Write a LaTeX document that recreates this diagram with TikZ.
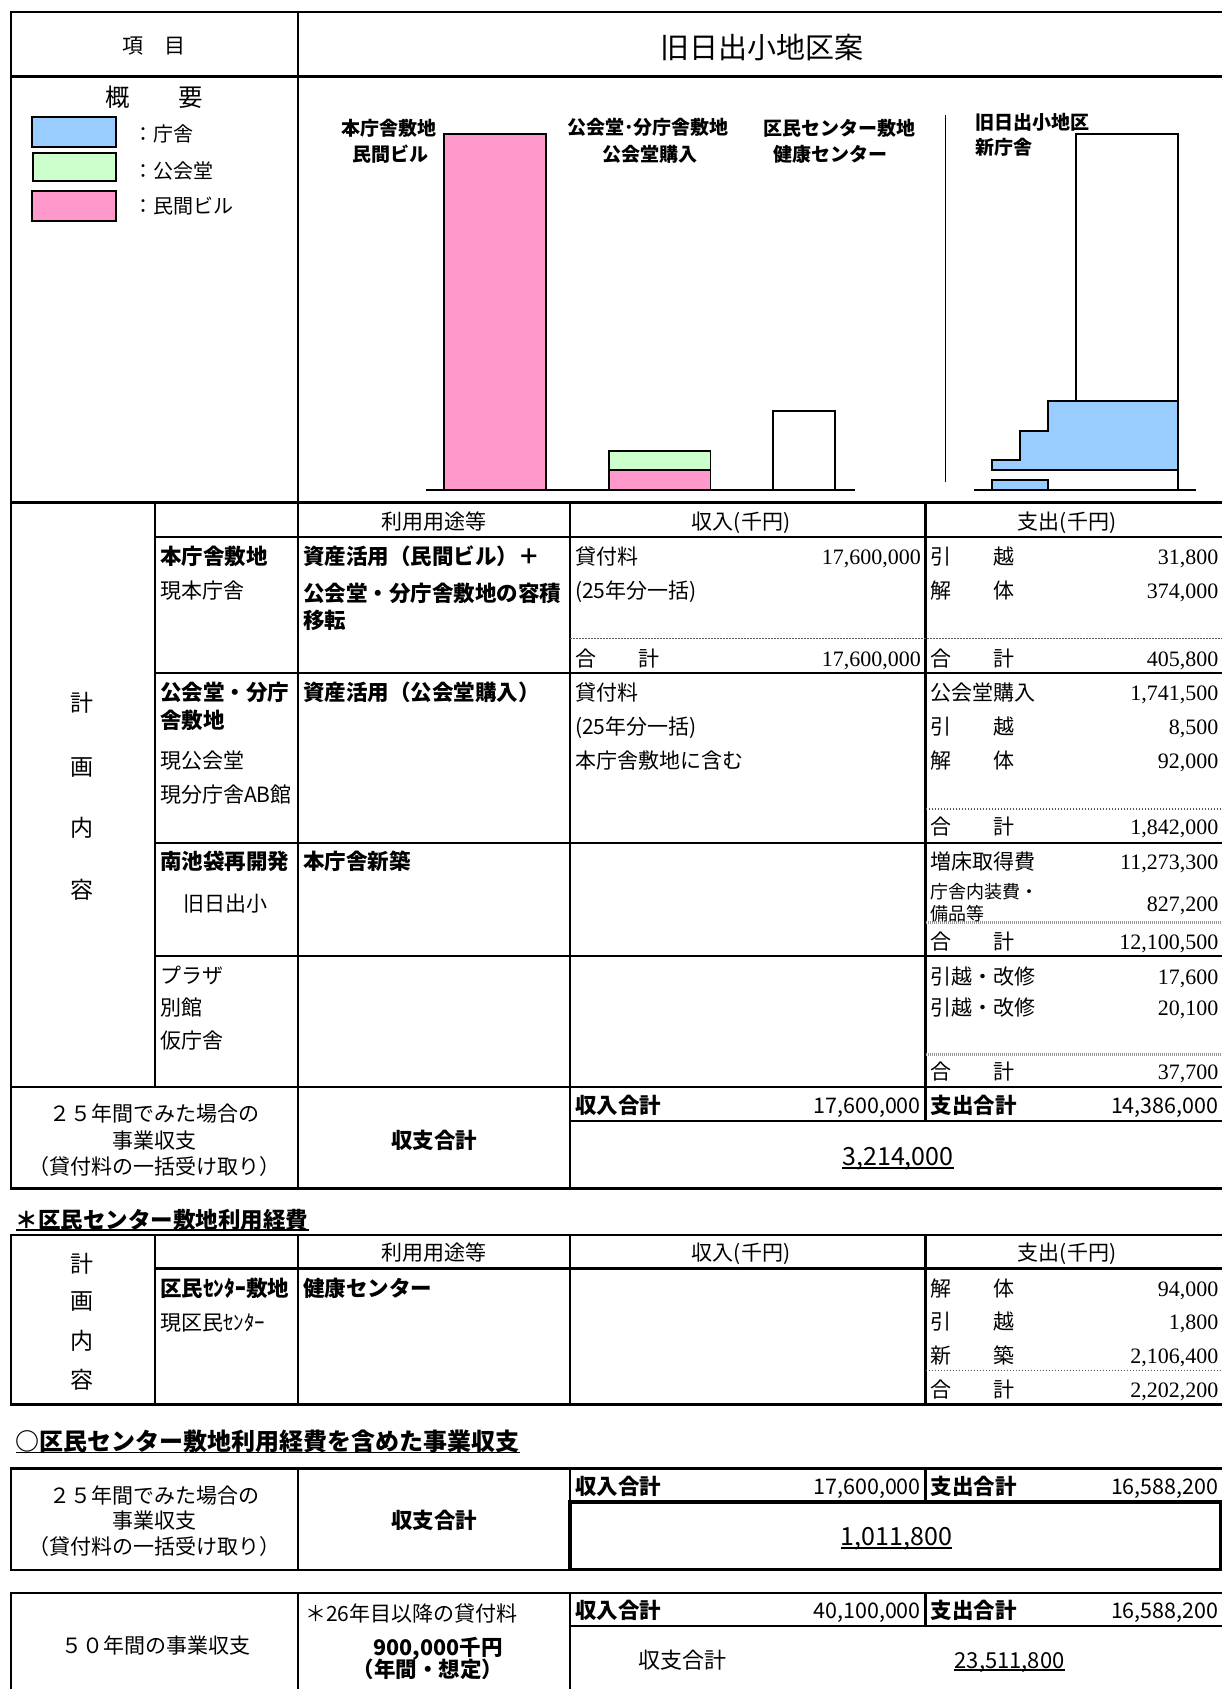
\documentclass[tikz,border=0pt]{standalone}
\usepackage{fontspec}
\setmainfont{Liberation Serif}
\newfontfamily\jp{Noto Sans CJK JP}
\usetikzlibrary{positioning}
\definecolor{chosha}{RGB}{153,204,255}
\definecolor{kokaido}{RGB}{204,255,204}
\definecolor{minkan}{RGB}{255,153,204}

\begin{document}
\begin{tikzpicture}[x=1pt, y=-1pt,
                    every node/.style={inner sep=0pt,
                                       font=\jp\fontsize{21}{25}\selectfont,
                                       text height=18.5pt, text depth=2.5pt},
                    rule/.style={line width=2.4pt, line cap=rect},
                    dotrule/.style={line width=1.3pt, black!65,
                                    dash pattern=on 1.5pt off 1.5pt},
                    grayrule/.style={line width=3pt, black!40,
                                     dash pattern=on 1pt off 1pt},
                    barbox/.style={draw, line width=1.3pt},
                    legendbox/.style={draw, line width=2.4pt},
                    cell/.style={anchor=west},
                    bold/.style={font=\jp\bfseries\fontsize{21.5}{26}\selectfont,
                                 text height=19pt, text depth=2.5pt},
                    num/.style={anchor=east, font=\fontsize{22}{26}\selectfont,
                                text height=19pt, text depth=2.5pt},
                    gnum/.style={anchor=east, font=\jp\fontsize{21.5}{26}\selectfont,
                                 text height=19pt, text depth=2.5pt},
                    bignum/.style={font=\jp\fontsize{25}{30}\selectfont,
                                   text height=22pt, text depth=3pt},
                    chartlabel/.style={font=\jp\bfseries\fontsize{19}{23}\selectfont,
                                       text height=16.7pt, text depth=2.3pt},
                    small/.style={anchor=west, font=\jp\fontsize{18}{22}\selectfont,
                                  text height=15.8pt, text depth=2.2pt},
                    vert/.style={font=\jp\fontsize{23}{27}\selectfont,
                                 text height=20.2pt, text depth=2.8pt},
                    heading/.style={anchor=west, font=\jp\bfseries\fontsize{#1}{28}\selectfont,
                                    text height=20.5pt, text depth=2.8pt},
                    underline/.style={line width=1.6pt}]
    \useasboundingbox[fill=white] (0,0) rectangle (1222,1689);

    \draw[rule] (11,12) -- (1222,12);
    \draw[rule] (11,76.5) -- (1222,76.5);
    \draw[rule] (11,502.5) -- (1222,502.5);
    \draw[rule] (11,12) -- (11,1188.5);
    \draw[rule] (298,12) -- (298,1188.5);
    \draw[rule] (155,502.5) -- (155,1087);
    \draw[rule] (570,502.5) -- (570,1188.5);
    \draw[rule] (925.5,502.5) -- (925.5,1121);
    \draw[rule] (155,536.7) -- (1222,536.7);
    \draw[rule] (155,673) -- (1222,673);
    \draw[rule] (155,842.7) -- (1222,842.7);
    \draw[rule] (155,956) -- (1222,956);
    \draw[rule] (11,1087) -- (1222,1087);
    \draw[rule] (570,1121) -- (1222,1121);
    \draw[rule] (11,1188.5) -- (1222,1188.5);
    \draw[dotrule] (570,638.3) -- (1222,638.3);
    \draw[dotrule] (925.5,809) -- (1222,809);
    \draw[grayrule] (925.5,922.7) -- (1222,922.7);
    \draw[grayrule] (925.5,1054) -- (1222,1054);

    \node (komoku) at (154,45) {項　目};
    \node[font=\jp\fontsize{29}{34}\selectfont, text height=25.5pt, text depth=3.5pt]
        (title) at (762,47) {旧日出小地区案};
    \node[font=\jp\fontsize{24.5}{29}\selectfont, text height=21.5pt, text depth=3pt]
        (gaiyo) at (154,97) {概　　要};

    \draw[legendbox, fill=chosha] (32,117) rectangle (116,147);
    \draw[legendbox, fill=kokaido] (33,153) rectangle (116,181);
    \draw[legendbox, fill=minkan] (32,191) rectangle (116,221);
    \node[cell, font=\jp\fontsize{20}{24}\selectfont] (lg-chosha) at (133,133) {：庁舎};
    \node[cell, font=\jp\fontsize{20}{24}\selectfont] (lg-kokaido) at (133,170) {：公会堂};
    \node[cell, font=\jp\fontsize{20}{24}\selectfont] (lg-minkan) at (133,205) {：民間ビル};

    \node[chartlabel] (honcho-1) at (389,128) {本庁舎敷地};
    \node[chartlabel] (honcho-2) at (390,154) {民間ビル};
    \node[chartlabel] (kokai-1) at (648,127) {公会堂･分庁舎敷地};
    \node[chartlabel] (kokai-2) at (650,154) {公会堂購入};
    \node[chartlabel] (kumin-1) at (839,128) {区民センター敷地};
    \node[chartlabel] (kumin-2) at (830,154) {健康センター};
    \node[chartlabel, anchor=west] (hinode-1) at (975,122) {旧日出小地区};
    \node[chartlabel, anchor=west] (hinode-2) at (975,147) {新庁舎};

    \draw[barbox, fill=minkan] (444,134) rectangle (546,490);
    \draw[barbox, fill=kokaido] (609,451) rectangle (710.5,470);
    \draw[barbox, fill=minkan] (609,470) rectangle (710.5,490);
    \draw[barbox, fill=white] (773,411) rectangle (835,490);
    \draw[line width=1.3pt] (426,490) -- (854.5,490);
    \draw[line width=1.5pt] (945.5,115) -- (945.5,482);
    \draw[barbox, fill=white] (1076,134) rectangle (1178,401);
    \draw[barbox, fill=chosha] (1048,401) -- (1178,401) -- (1178,470) -- (992,470)
        -- (992,460) -- (1020,460) -- (1020,431) -- (1048,431) -- cycle;
    \draw[barbox] (1178,470) -- (1178,490);
    \draw[barbox, fill=chosha] (992,480) rectangle (1048,490);
    \draw[line width=1.3pt] (974,490) -- (1196,490);

    \node[vert] (kei) at (82,703) {計};
    \node[vert] (kaku) at (82,766.7) {画};
    \node[vert] (nai) at (82,828) {内};
    \node[vert] (yo) at (82,890) {容};

    \node (use-head) at (434,521.7) {利用用途等};
    \node (inc-head) at (741,521.7) {収入(千円)};
    \node (exp-head) at (1067,521.7) {支出(千円)};

    \node[cell, bold] (r1-site) at (160,556) {本庁舎敷地};
    \node[cell] (r1-now) at (160,590) {現本庁舎};
    \node[cell, bold] (r1-use-1) at (303,556) {資産活用（民間ビル）＋};
    \node[cell, bold] (r1-use-2) at (303,593) {公会堂・分庁舎敷地の容積};
    \node[cell, bold] (r1-use-3) at (303,620) {移転};
    \node[cell] (r1-inc) at (575,556) {貸付料};
    \node[num] (r1-inc-v) at (921,556) {17,600,000};
    \node[cell] (r1-inc-note) at (575,590) {(25年分一括)};
    \node[cell] (r1-inc-sum) at (575,658.3) {合　　計};
    \node[num] (r1-inc-sum-v) at (921,658.3) {17,600,000};
    \node[cell] (r1-hikkoshi) at (930.7,556) {引　　越};
    \node[num] (r1-hikkoshi-v) at (1218.6,556) {31,800};
    \node[cell] (r1-kaitai) at (930.7,590) {解　　体};
    \node[num] (r1-kaitai-v) at (1218.6,590) {374,000};
    \node[cell] (r1-exp-sum) at (930.7,658.3) {合　　計};
    \node[num] (r1-exp-sum-v) at (1218.6,658.3) {405,800};

    \node[cell, bold] (r2-site-1) at (160,692.7) {公会堂・分庁};
    \node[cell, bold] (r2-site-2) at (160,720.7) {舎敷地};
    \node[cell] (r2-now-1) at (160,760) {現公会堂};
    \node[cell] (r2-now-2) at (160,794) {現分庁舎AB館};
    \node[cell, bold] (r2-use) at (303,692.7) {資産活用（公会堂購入）};
    \node[cell] (r2-inc) at (575,692.7) {貸付料};
    \node[cell] (r2-inc-note) at (575,726.7) {(25年分一括)};
    \node[cell] (r2-inc-incl) at (575,760) {本庁舎敷地に含む};
    \node[cell] (r2-kounyu) at (930.7,692.7) {公会堂購入};
    \node[num] (r2-kounyu-v) at (1218.6,692.7) {1,741,500};
    \node[cell] (r2-hikkoshi) at (930.7,726.7) {引　　越};
    \node[num] (r2-hikkoshi-v) at (1218.6,726.7) {8,500};
    \node[cell] (r2-kaitai) at (930.7,760) {解　　体};
    \node[num] (r2-kaitai-v) at (1218.6,760) {92,000};
    \node[cell] (r2-exp-sum) at (930.7,826.7) {合　　計};
    \node[num] (r2-exp-sum-v) at (1218.6,826.7) {1,842,000};

    \node[cell, bold] (r3-site) at (160,861.7) {南池袋再開発};
    \node[cell] (r3-now) at (183,903) {旧日出小};
    \node[cell, bold] (r3-use) at (303,861.7) {本庁舎新築};
    \node[cell] (r3-zousho) at (930.7,861.7) {増床取得費};
    \node[num] (r3-zousho-v) at (1218.6,861.7) {11,273,300};
    \node[small] (r3-naiso-1) at (930.7,891.7) {庁舎内装費・};
    \node[small] (r3-naiso-2) at (930.7,913.3) {備品等};
    \node[num] (r3-naiso-v) at (1218.6,903.3) {827,200};
    \node[cell] (r3-exp-sum) at (930.7,941.7) {合　　計};
    \node[num] (r3-exp-sum-v) at (1218.6,941.7) {12,100,500};

    \node[cell] (r4-plaza) at (160,975) {プラザ};
    \node[cell] (r4-bekkan) at (160,1007) {別館};
    \node[cell] (r4-kari) at (160,1040.7) {仮庁舎};
    \node[cell] (r4-kaishu-1) at (930.7,976) {引越・改修};
    \node[num] (r4-kaishu-1-v) at (1218.6,976) {17,600};
    \node[cell] (r4-kaishu-2) at (930.7,1007.3) {引越・改修};
    \node[num] (r4-kaishu-2-v) at (1218.6,1007.3) {20,100};
    \node[cell] (r4-exp-sum) at (930.7,1071.7) {合　　計};
    \node[num] (r4-exp-sum-v) at (1218.6,1071.7) {37,700};

    \node (s1-l1) at (154.5,1113.3) {２５年間でみた場合の};
    \node (s1-l2) at (154.5,1140) {事業収支};
    \node (s1-l3) at (154.5,1166.7) {（貸付料の一括受け取り）};
    \node[bold] (s1-mid) at (434,1140.7) {収支合計};
    \node[cell, bold] (s1-inc) at (575,1105) {収入合計};
    \node[gnum] (s1-inc-v) at (921,1105) {17,600,000};
    \node[cell, bold] (s1-exp) at (930.7,1105) {支出合計};
    \node[gnum] (s1-exp-v) at (1218.6,1105) {14,386,000};
    \node[bignum] (s1-bal) at (898,1156) {3,214,000};
    \draw[underline] ([yshift=1pt]s1-bal.south west) -- ([yshift=1pt]s1-bal.south east);

    \node[heading=22.5] (sec-kumin) at (15.6,1219.3) {＊区民センター敷地利用経費};
    \draw[underline] ([yshift=1pt]sec-kumin.south west) -- ([yshift=1pt]sec-kumin.south east);

    \draw[rule] (11,1235) -- (1222,1235);
    \draw[rule] (155,1268.5) -- (1222,1268.5);
    \draw[rule] (11,1404.3) -- (1222,1404.3);
    \draw[rule] (11,1235) -- (11,1404.3);
    \draw[rule] (155,1235) -- (155,1404.3);
    \draw[rule] (298,1235) -- (298,1404.3);
    \draw[rule] (570,1235) -- (570,1404.3);
    \draw[rule] (925.5,1235) -- (925.5,1404.3);
    \draw[dotrule] (925.5,1370.7) -- (1222,1370.7);

    \node[vert] (k-kei) at (82,1263.3) {計};
    \node[vert] (k-kaku) at (82,1300.7) {画};
    \node[vert] (k-nai) at (82,1340.7) {内};
    \node[vert] (k-yo) at (82,1380) {容};
    \node (k-use-head) at (434,1252) {利用用途等};
    \node (k-inc-head) at (741,1252) {収入(千円)};
    \node (k-exp-head) at (1067,1252) {支出(千円)};
    \node[cell, bold] (k-site) at (160,1288.3) {区民ｾﾝﾀｰ敷地};
    \node[cell] (k-now) at (160,1322.7) {現区民ｾﾝﾀｰ};
    \node[cell, bold] (k-use) at (303,1288.3) {健康センター};
    \node[cell] (k-kaitai) at (930.7,1288.3) {解　　体};
    \node[num] (k-kaitai-v) at (1218.6,1288.3) {94,000};
    \node[cell] (k-hikkoshi) at (930.7,1321.7) {引　　越};
    \node[num] (k-hikkoshi-v) at (1218.6,1321.7) {1,800};
    \node[cell] (k-shinchiku) at (930.7,1355) {新　　築};
    \node[num] (k-shinchiku-v) at (1218.6,1355) {2,106,400};
    \node[cell] (k-exp-sum) at (930.7,1389.3) {合　　計};
    \node[num] (k-exp-sum-v) at (1218.6,1389.3) {2,202,200};

    \node[heading=24] (sec-total) at (15.6,1441.7) {○区民センター敷地利用経費を含めた事業収支};
    \draw[underline] ([yshift=1pt]sec-total.south west) -- ([yshift=1pt]sec-total.south east);

    \draw[rule] (11,1468.3) -- (1222,1468.3);
    \draw[rule] (11,1570) -- (570,1570);
    \draw[rule] (11,1468.3) -- (11,1570);
    \draw[rule] (298,1468.3) -- (298,1570);
    \draw[rule] (570,1468.3) -- (570,1501.7);
    \draw[rule] (925.5,1468.3) -- (925.5,1501.7);
    \draw[line width=3.6pt] (570,1501.7) rectangle (1220.5,1569.3);

    \node (t25-l1) at (154.5,1495) {２５年間でみた場合の};
    \node (t25-l2) at (154.5,1520) {事業収支};
    \node (t25-l3) at (154.5,1546) {（貸付料の一括受け取り）};
    \node[bold] (t25-mid) at (434,1520) {収支合計};
    \node[cell, bold] (t25-inc) at (575,1486) {収入合計};
    \node[gnum] (t25-inc-v) at (921,1486) {17,600,000};
    \node[cell, bold] (t25-exp) at (930.7,1486) {支出合計};
    \node[gnum] (t25-exp-v) at (1218.6,1486) {16,588,200};
    \node[bignum] (t25-bal) at (896.5,1536) {1,011,800};
    \draw[underline] ([yshift=1pt]t25-bal.south west) -- ([yshift=1pt]t25-bal.south east);

    \draw[rule] (11,1592.7) -- (1222,1592.7);
    \draw[rule] (11,1592.7) -- (11,1689);
    \draw[rule] (298,1592.7) -- (298,1689);
    \draw[rule] (570,1592.7) -- (570,1689);
    \draw[rule] (925.5,1592.7) -- (925.5,1626);
    \draw[rule] (570,1626) -- (1222,1626);

    \node (t50-label) at (156,1645) {５０年間の事業収支};
    \node[cell] (t50-note) at (305,1613.3) {＊26年目以降の貸付料};
    \node[bold] (t50-rent) at (438,1647.5) {900,000千円};
    \node[bold] (t50-year) at (428,1669) {（年間・想定）};
    \node[cell, bold] (t50-inc) at (575,1610) {収入合計};
    \node[gnum] (t50-inc-v) at (921,1610) {40,100,000};
    \node[cell, bold] (t50-exp) at (930.7,1610) {支出合計};
    \node[gnum] (t50-exp-v) at (1218.6,1610) {16,588,200};
    \node[font=\jp\fontsize{22}{26}\selectfont] (t50-mid) at (682.4,1660) {収支合計};
    \node[font=\jp\fontsize{22}{26}\selectfont] (t50-bal) at (1009.6,1660) {23,511,800};
    \draw[underline] ([yshift=1pt]t50-bal.south west) -- ([yshift=1pt]t50-bal.south east);
\end{tikzpicture}
\end{document}
